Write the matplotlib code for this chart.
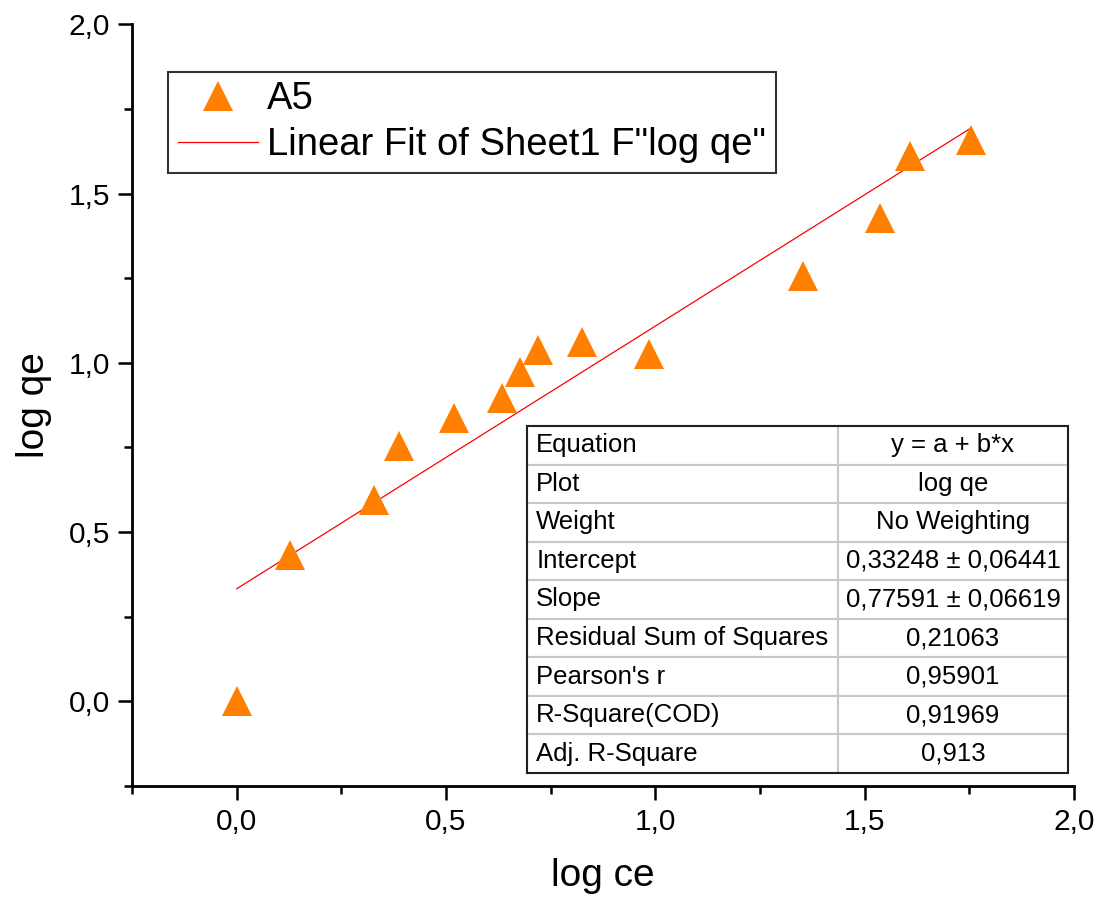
import numpy as np
import matplotlib
matplotlib.use("Agg")
import matplotlib.pyplot as plt
from matplotlib.ticker import MultipleLocator, FuncFormatter
from matplotlib.patches import Rectangle

plt.rcParams['font.family'] = ['Liberation Sans', 'DejaVu Sans']

# data
log_ce = [0.0, 0.128, 0.329, 0.387, 0.519, 0.633, 0.678, 0.721, 0.826, 0.985, 1.354, 1.537, 1.608, 1.753]
log_qe = [0.0, 0.433, 0.596, 0.754, 0.836, 0.895, 0.972, 1.037, 1.062, 1.025, 1.257, 1.427, 1.611, 1.657]

# fit result (from the table)
intercept = 0.33248
slope = 0.77591

row_names = ['Equation', 'Plot', 'Weight', 'Intercept', 'Slope',
             'Residual Sum of Squares', "Pearson's r", 'R-Square(COD)', 'Adj. R-Square']
row_values = ['y = a + b*x', 'log qe', 'No Weighting', '0,33248 \u00b1 0,06441',
              '0,77591 \u00b1 0,06619', '0,21063', '0,95901', '0,91969', '0,913']

fig = plt.figure(figsize=(10.99, 9.05), dpi=100)
ax = fig.add_axes([0.1201, 0.1315, 0.8571, 0.8417])

ax.plot(log_ce, log_qe, linestyle='none', marker='^', markersize=21,
        color='#ff8000', markeredgewidth=0, label='A5', zorder=3)

xf = np.array([min(log_ce), max(log_ce)])
ax.plot(xf, intercept + slope * xf, color='#ff0000', lw=0.9,
        label='Linear Fit of Sheet1 F"log qe"', zorder=2)

ax.set_xlim(-0.25, 2.0)
ax.set_ylim(-0.25, 2.0)
ax.xaxis.set_major_locator(MultipleLocator(0.5))
ax.xaxis.set_minor_locator(MultipleLocator(0.25))
ax.yaxis.set_major_locator(MultipleLocator(0.5))
ax.yaxis.set_minor_locator(MultipleLocator(0.25))
comma = FuncFormatter(lambda v, p: ('%.1f' % v).replace('.', ','))
ax.xaxis.set_major_formatter(comma)
ax.yaxis.set_major_formatter(comma)

for s in ['top', 'right']:
    ax.spines[s].set_visible(False)
for s in ['left', 'bottom']:
    ax.spines[s].set_linewidth(2.0)
ax.tick_params(which='major', direction='out', length=10, width=1.8, labelsize=21.5, pad=6)
ax.tick_params(which='minor', direction='out', length=5.5, width=1.8)

ax.set_xlabel('log ce', fontsize=28, labelpad=16)
ax.set_ylabel('log qe', fontsize=28, labelpad=12)

leg = ax.legend(loc='upper left', bbox_to_anchor=(0.0382, 0.9374), borderaxespad=0,
                fontsize=27.5, fancybox=False, frameon=True, handlelength=2.1,
                handletextpad=0.25, borderpad=0.25, labelspacing=0.25)
leg.get_frame().set_edgecolor('black')
leg.get_frame().set_linewidth(1.5)

# fit statistics table
tb = ax.table(cellText=[[n, v] for n, v in zip(row_names, row_values)],
              colWidths=[0.575, 0.425], cellLoc='center',
              bbox=[0.4193, 0.0171, 0.5743, 0.4555], zorder=5)
tb.auto_set_font_size(False)
for (r, c), cell in tb.get_celld().items():
    cell.set_edgecolor('#c8c8c8')
    cell.set_linewidth(1.5)
    cell.set_facecolor('white')
    cell.get_text().set_fontsize(18.5)
    if c == 0:
        cell.PAD = 0.03
        cell.get_text().set_ha('left')
        cell._loc = 'left'
ax.add_patch(Rectangle((0.4193, 0.0171), 0.5743, 0.4555, transform=ax.transAxes,
                       fill=False, edgecolor='#202020', lw=1.5, zorder=6, clip_on=False))

fig.savefig('out.png', dpi=100)
